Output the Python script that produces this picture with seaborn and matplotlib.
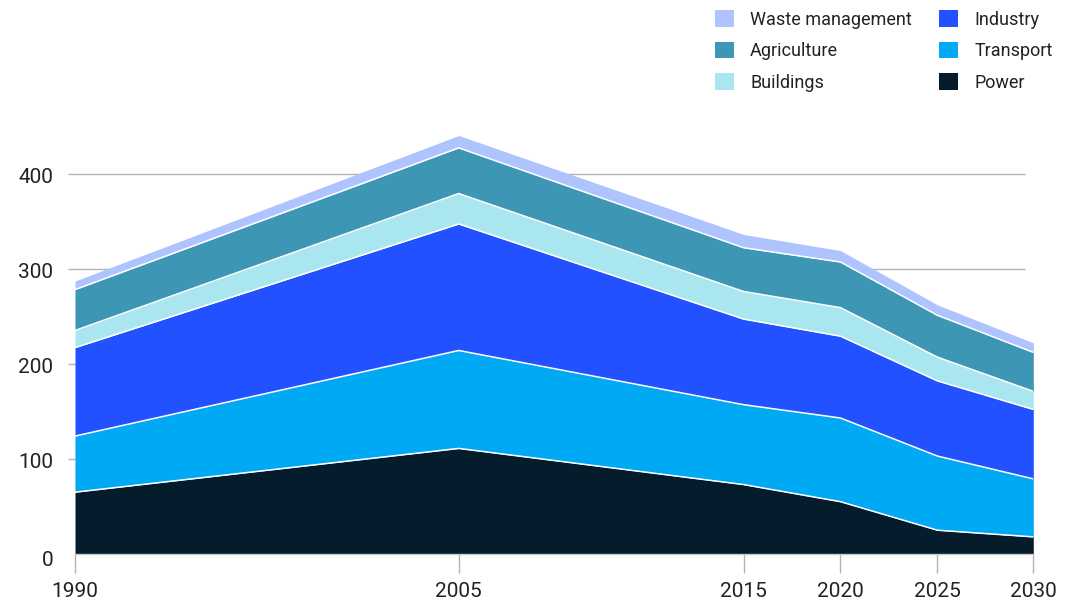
import matplotlib
matplotlib.use("Agg")
import matplotlib.pyplot as plt
import matplotlib.transforms as mtransforms
from matplotlib.patches import Patch
import numpy as np
import pandas as pd
import seaborn as sns

# ---- data ----
years = ["1990", "2005", "2015", "2020", "2025", "2030"]
power = [65, 111, 73, 55, 25, 18]
transport = [59, 103, 84, 88, 78, 61]
industry = [93, 133, 90, 86, 79, 73]
buildings = [18, 32, 29, 30, 25, 19]
agriculture = [43, 48, 46, 48, 44, 41]
waste = [9, 13, 14, 12, 11, 10]
y_ticks = [0, 100, 200, 300, 400]

# ---- layout (x axis is not linear in years in the reference) ----
x_pos = np.array([0, 3.96, 6.90, 7.90, 8.90, 9.89])

sns.set_theme(style="white")
plt.rcParams["font.family"] = ["Roboto", "DejaVu Sans"]

series = [
    ("Power", power, "#051C2C"),
    ("Transport", transport, "#00A9F4"),
    ("Industry", industry, "#2251FF"),
    ("Buildings", buildings, "#AAE6F0"),
    ("Agriculture", agriculture, "#3C96B4"),
    ("Waste management", waste, "#AFC3FF"),
]

fig = plt.figure(figsize=(10.69, 6.03), dpi=100)
ax = fig.add_axes([68 / 1069, (603 - 554) / 603, (1033.3 - 68) / 1069, (554 - 126) / 603])

# gridlines (behind areas)
xl = x_pos[0] - 7 / 96.9
xr = x_pos[-1] - 8 / 96.9
for t in y_ticks[1:]:
    ax.hlines(t, xl, xr, color="#b3b3b3", lw=1, zorder=0)

base = np.zeros(len(years))
rows = []
for name, vals, col in series:
    top = base + np.array(vals)
    ax.fill_between(x_pos, base, top, color=col, lw=0, zorder=2)
    for xp, v in zip(x_pos, top):
        rows.append({"x": xp, "y": v, "series": name})
    base = top

df = pd.DataFrame(rows)
# white separator lines between layers
sns.lineplot(data=df[df.series != "Waste management"], x="x", y="y", units="series",
             estimator=None, color="white", lw=1.1, ax=ax, zorder=3, legend=False)

ax.set_xlim(xl, x_pos[-1])
ax.set_ylim(0, 450)
ax.set_xlabel("")
ax.set_ylabel("")

ax.set_xticks(x_pos)
ax.set_xticklabels(years)
ax.set_yticks(y_ticks)
ax.set_yticklabels([str(t) for t in y_ticks])
ax.tick_params(axis="x", length=14, width=1, color="#b3b3b3", pad=6,
               labelsize=15, labelcolor="#222222", direction="out", bottom=True)
ax.tick_params(axis="y", length=0, pad=10.5, labelsize=15, labelcolor="#222222")
for i, lab in enumerate(ax.get_yticklabels()):
    dy = -4 if i == 0 else -2
    off = mtransforms.ScaledTranslation(0, dy / 100, fig.dpi_scale_trans)
    lab.set_transform(lab.get_transform() + off)

for s in ["top", "right", "left"]:
    ax.spines[s].set_visible(False)
ax.spines["bottom"].set_color("#c8c8c8")
ax.spines["bottom"].set_linewidth(1)
ax.spines["bottom"].set_bounds(x_pos[0], x_pos[-1])
ax.spines["bottom"].set_zorder(4)

legend_order = ["Waste management", "Agriculture", "Buildings", "Industry", "Transport", "Power"]
colors = {n: c for n, _, c in series}
handles = [Patch(facecolor=colors[n], edgecolor="none", label=n) for n in legend_order]
fig.legend(handles=handles, ncol=2, loc="upper left",
           bbox_to_anchor=(715 / 1069, 1 - 10 / 603), frameon=False,
           fontsize=13, handlelength=1.05, handleheight=1.05, handletextpad=0.9,
           columnspacing=1.5, labelspacing=0.72, borderpad=0, borderaxespad=0,
           labelcolor="#222222")

fig.savefig("out.png", dpi=100)
